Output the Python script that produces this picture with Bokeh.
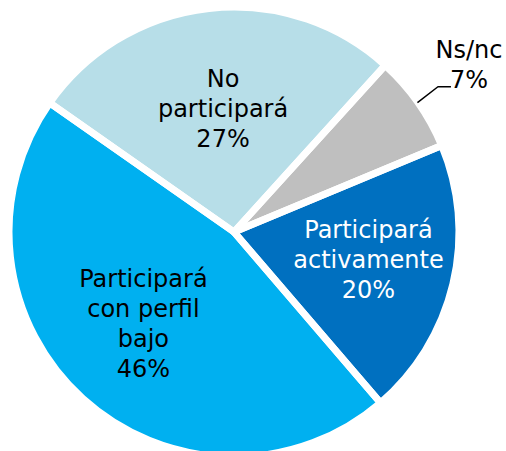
import math
from bokeh.plotting import figure
from bokeh.models import Range1d, ColumnDataSource
from bokeh.embed import file_html
from bokeh.resources import INLINE
from bokeh.core.properties import value

# ---- data ----
categories = ["Participará\nactivamente", "Ns/nc", "No\nparticipará", "Participará\ncon perfil\nbajo"]
values = [20, 7, 27, 46]
pct_labels = ["20%", "7%", "27%", "46%"]

# ---- style / layout ----
colors = ["#0070C0", "#BFBFBF", "#B7DEE8", "#00B0F0"]
text_colors = ["white", "black", "black", "black"]
W, H = 506, 451
CX, CY = 233.5, -231.5        # pie centre in page pixels (y negated)
R = 225.0                      # outer radius (white border eats 3.5px)
GAP = 7                        # white separator width
START_DEG = -49.4              # start angle, anticlockwise
label_dist = [139, 284.4, 116.4, 134.1]
label_dang = [-1.3, -0.9, -1.0, -0.3]
LABEL_DY = 7                   # raise text block
LINE_H = 30
FONT = "DejaVu Sans"
FONT_SIZE = "24px"

p = figure(width=W, height=H, x_range=Range1d(0, W), y_range=Range1d(-H, 0),
           x_axis_type=None, y_axis_type=None, toolbar_location=None,
           output_backend="svg", min_border=0)
p.outline_line_color = None
p.background_fill_color = "white"
p.border_fill_color = "white"

total = float(sum(values))
starts, ends, mids = [], [], []
a = math.radians(START_DEG)
for v in values:
    span = 2 * math.pi * v / total
    starts.append(a)
    ends.append(a + span)
    mids.append(a + span / 2)
    a += span

src = ColumnDataSource(dict(x=[CX] * len(values), y=[CY] * len(values),
                            start=starts, end=ends, color=colors))
p.wedge(x="x", y="y", radius=R, start_angle="start", end_angle="end",
        fill_color="color", line_color=None, source=src)
p.wedge(x="x", y="y", radius=R, start_angle="start", end_angle="end",
        fill_color=None, line_color="white", line_width=GAP, line_join="round", source=src)

# labels
tx, ty, tt, tc = [], [], [], []
for i, (name, pct) in enumerate(zip(categories, pct_labels)):
    lines = name.split("\n") + [pct]
    ang = mids[i] + math.radians(label_dang[i])
    ax = CX + label_dist[i] * math.cos(ang)
    ay = CY + label_dist[i] * math.sin(ang)
    n = len(lines)
    for j, ln in enumerate(lines):
        tx.append(ax)
        ty.append(ay - (j - (n - 1) / 2) * LINE_H + LABEL_DY)
        tt.append(ln)
        tc.append(text_colors[i])
    if i == 1:
        # leader line for the small slice
        r0 = R - GAP / 2 + 3
        sx = CX + r0 * math.cos(mids[i])
        sy = CY + r0 * math.sin(mids[i])
        base_last = ay - ((n - 1) - (n - 1) / 2) * LINE_H
        ex, ey = ax - 18, base_last
        p.line([sx, ex - 13, ex], [sy, ey, ey], line_color="black", line_width=1.5)

p.text(x=tx, y=ty, text=tt, text_color=tc, text_align="center", text_baseline="alphabetic",
       text_font=value(FONT), text_font_size=value(FONT_SIZE))

open("out.html", "w").write(file_html(p, INLINE))
